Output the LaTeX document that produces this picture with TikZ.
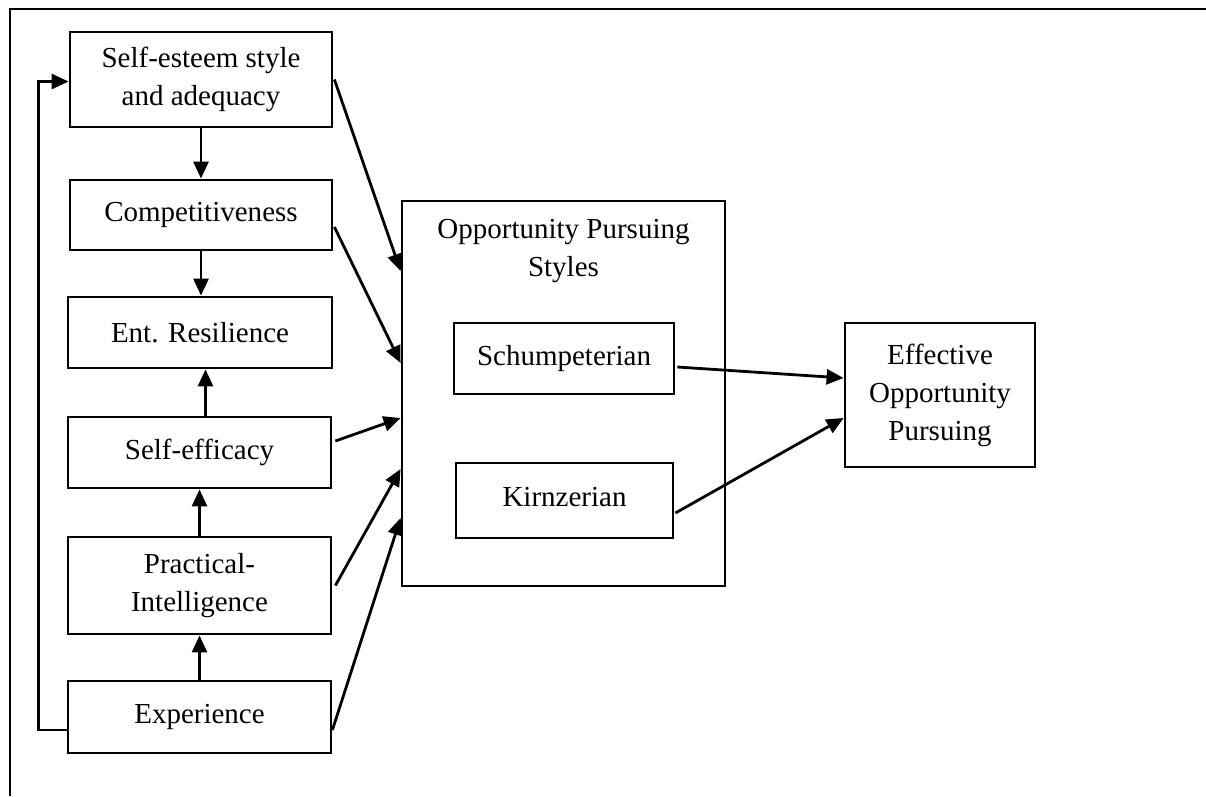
\documentclass[tikz,border=0pt]{standalone}
\usepackage{fontspec}
\setmainfont{Liberation Serif}
\usetikzlibrary{arrows.meta}
\tikzset{
  box/.style={draw, line width=2.8pt, rectangle, inner sep=0pt, align=center,
    font=\fontsize{29}{38}\selectfont},
  txt/.style={inner sep=0pt, align=center, font=\fontsize{29}{38}\selectfont},
  conn/.style={line width=2.8pt, -{Triangle[length=17pt,width=15pt]}},
  plain/.style={line width=2.8pt}
}
\begin{document}
\begin{tikzpicture}[x=1pt,y=-1pt]
\useasboundingbox (0,0) rectangle (1206,796);
% outer frame (top and left edges visible)
\coordinate (fbl) at (10,796);
\coordinate (ftl) at (10,9);
\coordinate (ftr) at (1206,9);
\draw[plain] (fbl) -- (ftl) -- (ftr);

% left column
\node[box, minimum width=262pt, minimum height=95pt] (se) at (201,79.5) {Self-esteem style\\and adequacy};
\node[box, minimum width=262pt, minimum height=70pt] (comp) at (201,215) {Competitiveness};
\node[box, minimum width=264pt, minimum height=71pt] (res) at (200,332.5) {Ent. Resilience};
\node[box, minimum width=263pt, minimum height=71pt] (eff) at (199.5,452.5) {Self-efficacy};
\node[box, minimum width=263pt, minimum height=97pt] (prac) at (199.5,585.5) {Practical-\\Intelligence};
\node[box, minimum width=263pt, minimum height=72pt] (exp) at (199.5,717) {\raisebox{7pt}{Experience}};

% middle
\node[box, minimum width=323pt, minimum height=385pt] (ops) at (563.5,393.5) {};
\node[txt] (opst) at (563.5,251) {Opportunity Pursuing\\Styles};
\node[box, minimum width=220pt, minimum height=71pt] (sch) at (564,358.5) {\raisebox{6pt}{Schumpeterian}};
\node[box, minimum width=217pt, minimum height=75pt] (kir) at (564.5,500.5) {\raisebox{8pt}{Kirnzerian}};

% right
\node[box, minimum width=190pt, minimum height=144pt] (effop) at (940,395) {Effective\\Opportunity\\Pursuing};

% vertical arrows
\draw[conn] (se.south) -- (se.south |- comp.north);
\draw[conn] (comp.south) -- (comp.south |- res.north);
\draw[conn] ([xshift=6pt]eff.north) -- ([xshift=6pt]eff.north |- res.south);
\draw[conn] (prac.north) -- (prac.north |- eff.south);
\draw[conn] (exp.north) -- (exp.north |- prac.south);

% feedback loop
\draw[conn] ([yshift=-13pt]exp.west) -| ([xshift=-30pt,yshift=-2pt]se.west) -- ([yshift=-2pt]se.west);

% into opportunity pursuing styles
\draw[conn] ([xshift=1pt]se.east) -- ([yshift=122.5pt]ops.west);
\draw[conn] ([xshift=1pt,yshift=-12pt]comp.east) -- ([yshift=30.5pt]ops.west);
\draw[conn] ([xshift=3pt,yshift=11.5pt]eff.east) -- ([yshift=-24.5pt]ops.west);
\draw[conn] ([xshift=3pt]prac.east) -- ([yshift=-75.5pt]ops.west);
\draw[conn] ([xshift=0pt,yshift=-13pt]exp.east) -- ([yshift=-124.5pt]ops.west);

% to effective opportunity pursuing
\draw[conn] ([xshift=2pt,yshift=-8.5pt]sch.east) -- ([yshift=17pt]effop.west);
\draw[conn] ([xshift=1pt,yshift=-12.5pt]kir.east) -- ([yshift=-23pt]effop.west);
\end{tikzpicture}
\end{document}
